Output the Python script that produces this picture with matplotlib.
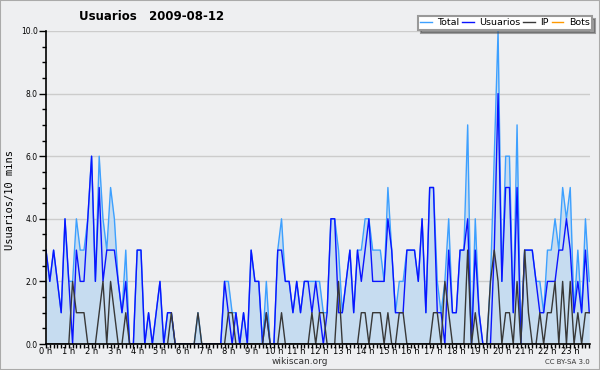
import matplotlib
matplotlib.use("Agg")
import matplotlib.pyplot as plt
from matplotlib.patches import Rectangle
import numpy as np

# 10-minute slots over the day (144 points)
usuarios = [3,2,3,2,1,4,2,0,3,2,
            2,4,6,2,5,2,3,3,3,2,
            1,2,0,0,3,3,0,1,0,1,
            2,0,1,1,0,0,0,0,0,0,
            0,0,0,0,0,0,0,2,1,0,
            1,0,1,0,3,2,2,0,1,0,
            0,3,3,2,2,1,2,1,2,2,
            1,2,1,0,1,4,4,1,1,2,
            3,1,3,2,3,4,2,2,2,2,
            4,3,1,1,1,3,3,3,2,4,
            1,5,5,1,1,0,3,1,1,3,
            3,4,0,3,1,0,0,0,3,8,
            2,5,5,1,5,0,3,3,3,2,
            1,1,2,2,2,3,3,4,3,1,
            2,1,3,1]
ip = [0,0,0,0,0,0,0,2,1,1,
      1,0,0,0,1,2,0,2,1,0,
      0,1,0,0,0,0,0,0,0,0,
      0,0,0,1,0,0,0,0,0,0,
      1,0,0,0,0,0,0,0,1,1,
      0,0,0,0,0,0,0,0,1,0,
      0,0,1,0,0,0,0,0,0,0,
      1,0,1,1,0,0,0,2,0,0,
      0,0,0,1,1,0,1,1,1,0,
      1,0,0,1,1,0,0,0,0,0,
      0,0,1,1,0,2,1,0,0,0,
      0,3,0,1,0,0,0,2,3,2,
      0,1,1,0,2,0,3,1,0,0,
      1,0,1,1,2,0,2,0,2,0,
      1,0,1,1]
total = [3,2,3,2,1,4,2,2,4,3,
         3,4,6,2,6,4,3,5,4,2,
         1,3,0,0,3,3,0,1,0,1,
         2,0,1,1,0,0,0,0,0,0,
         1,0,0,0,0,0,0,2,2,1,
         1,0,1,0,3,2,2,0,2,0,
         0,3,4,2,2,1,2,1,2,2,
         2,2,2,1,1,4,4,3,1,2,
         3,1,3,3,4,4,3,3,3,2,
         5,3,1,2,2,3,3,3,2,4,
         1,5,5,2,1,2,4,1,1,3,
         3,7,0,4,1,0,0,2,6,10,
         2,6,6,1,7,0,3,3,3,2,
         2,1,3,3,4,3,5,4,5,1,
         3,1,4,2]
bots = [0]*144
hour_labels = [f"{h} h" for h in range(24)]

title = "Usuarios   2009-08-12"
ylabel = "Usuarios/10 mins"

BG = "#eeeff1"
fig = plt.figure(figsize=(6.0, 3.7), dpi=100, facecolor=BG)
ax = fig.add_axes([46/600, 26/370, 544/600, 313/370], facecolor=BG)

x = np.arange(len(total))
ax.fill_between(x, total, 0, color="#c6dcf0", lw=0, zorder=1)
ax.plot(x, bots, color="#ff9900", lw=1.0, zorder=2, label="Bots")
ax.plot(x, total, color="#3da0ff", lw=1.0, zorder=3, label="Total")
ax.plot(x, usuarios, color="#0a14ff", lw=1.0, zorder=4, label="Usuarios")
ax.plot(x, ip, color="#383838", lw=1.0, zorder=5, label="IP")

ax.set_xlim(0, 143.2)
ax.set_ylim(0, 10)
ax.set_yticks(np.arange(0, 10.1, 2))
ax.set_yticklabels([f"{v:.1f}" for v in np.arange(0, 10.1, 2)])
ax.set_yticks(np.arange(0, 10.1, 0.5), minor=True)
ax.set_xticks(np.arange(0, 144, 6))
ax.set_xticklabels(hour_labels)
ax.set_xticks(np.arange(0, 144, 1), minor=True)
ax.yaxis.grid(True, which="major", color="#cccccc", lw=1.0, zorder=0)
ax.set_axisbelow(True)
for s in ("top", "right"):
    ax.spines[s].set_visible(False)
for s in ("left", "bottom"):
    ax.spines[s].set_color("black")
    ax.spines[s].set_linewidth(1.2)
    ax.spines[s].set_zorder(6)
ax.tick_params(axis="y", which="major", direction="out", length=5, width=1,
               labelsize=5.5, pad=1, colors="black")
ax.tick_params(axis="y", which="minor", direction="out", length=3, width=1)
ax.tick_params(axis="x", which="major", direction="out", length=3, width=1,
               labelsize=6, pad=-0.5)
ax.tick_params(axis="x", which="minor", direction="out", length=3, width=1)

fig.text(10/600, 1 - 200/370, ylabel, rotation=90, va="center", ha="center",
         family="DejaVu Sans Mono", fontsize=7.5)
fig.text(152/600, 1 - 17/370, title, ha="center", va="center",
         fontsize=8.5, fontweight="bold")
fig.text(300/600, 1 - 362/370, "wikiscan.org", ha="center", va="center",
         fontsize=6.5, color="#333333")
fig.text(590/600, 1 - 362/370, "CC BY-SA 3.0", ha="right", va="center",
         fontsize=5, color="#333333")

handles, labels = ax.get_legend_handles_labels()
order = ["Total", "Usuarios", "IP", "Bots"]
hmap = dict(zip(labels, handles))
leg = fig.legend([hmap[k] for k in order], order, loc="upper right",
                 bbox_to_anchor=(592/600, 1 - 16/370), ncol=4, fontsize=6.8,
                 frameon=True, fancybox=False, shadow=True, handlelength=1.2,
                 handletextpad=0.6, columnspacing=0.3, borderpad=0.25,
                 borderaxespad=0.0)
leg.get_frame().set_edgecolor("#999999")
leg.get_frame().set_linewidth(1.5)
leg.get_frame().set_facecolor("white")

fig.patches.append(Rectangle((0, 0), 1, 1, transform=fig.transFigure, fill=False,
                             edgecolor="#aaaaaa", lw=1.5))

fig.savefig("out.png", dpi=100, facecolor=BG)
